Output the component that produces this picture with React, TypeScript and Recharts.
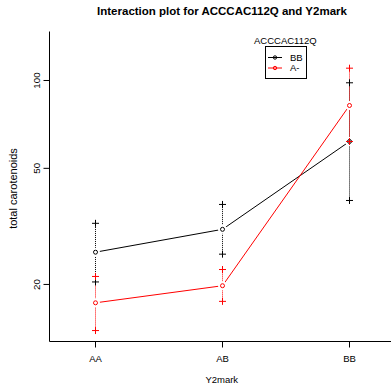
import React from 'react';
import { ComposedChart, Line, XAxis, YAxis, ErrorBar, Legend, Customized } from 'recharts';

const categories = ['AA', 'AB', 'BB'];
const bbMean = [25.8, 30.9, 61.8];
const bbLow = [20.4, 25.4, 38.8];
const bbHigh = [32.4, 37.6, 98.2];
const amMean = [17.3, 19.8, 82.1];
const amLow = [13.9, 17.5, 61.8];
const amHigh = [21.3, 22.5, 110.2];
const yTicks = [20, 50, 100];
const yDomain = [12.75, 147.2];
const groupNames = ['BB', 'A-'];
const groupColors = ['#000000', '#ff0000'];

const data = categories.map((c, i) => ({
  cat: c,
  bb: bbMean[i],
  bbErr: [bbMean[i] - bbLow[i], bbHigh[i] - bbMean[i]],
  bbLo: bbLow[i],
  bbHi: bbHigh[i],
  am: amMean[i],
  amErr: [amMean[i] - amLow[i], amHigh[i] - amMean[i]],
  amLo: amLow[i],
  amHi: amHigh[i],
}));

const FONT = '"Liberation Sans", Arial, Helvetica, sans-serif';

const GapDot = (props: any) => {
  const { cx, cy, stroke } = props;
  if (cx == null || cy == null) return null;
  return (
    <g>
      <circle cx={cx} cy={cy} r={4.5} fill="#fff" stroke="none" />
      <circle cx={cx} cy={cy} r={2} fill="none" stroke={stroke} strokeWidth={1} />
    </g>
  );
};

const makePlus = (color: string) => (props: any) => {
  const { cx, cy } = props;
  if (cx == null || cy == null) return null;
  return (
    <path
      d={`M${cx - 3.5},${cy}H${cx + 3.5}M${cx},${cy - 3.5}V${cy + 3.5}`}
      stroke={color}
      strokeWidth={1}
      fill="none"
    />
  );
};

const XTick = (props: any) => {
  const { x, y, payload } = props;
  return (
    <text x={x} y={y} dy={12.5} textAnchor="middle" fontSize={9.5} fontFamily={FONT} fill="#000">
      {payload.value}
    </text>
  );
};

const YTick = (props: any) => {
  const { x, y, payload } = props;
  return (
    <text
      x={x}
      y={y}
      transform={`rotate(-90, ${x}, ${y})`}
      textAnchor="middle"
      fontSize={9.8}
      fontFamily={FONT}
      fill="#000"
    >
      {payload.value}
    </text>
  );
};

const XLabel = (props: any) => {
  const vb = props.viewBox || {};
  return (
    <text x={vb.x + vb.width / 2} y={vb.y + 41.5} textAnchor="middle" fontSize={9.5} fontFamily={FONT} fill="#000">
      Y2mark
    </text>
  );
};

const YLabel = (props: any) => {
  const vb = props.viewBox || {};
  const x = 16.5;
  const y = vb.y + vb.height / 2 + 2;
  return (
    <text x={x} y={y} transform={`rotate(-90, ${x}, ${y})`} textAnchor="middle" fontSize={11} fontFamily={FONT} fill="#000">
      total carotenoids
    </text>
  );
};

const Title = () => (
  <text x={222} y={15} textAnchor="middle" fontSize={11.5} fontWeight="bold" fontFamily={FONT} fill="#000">
    Interaction plot for ACCCAC112Q and Y2mark
  </text>
);

const LegendContent = () => (
  <svg width={80} height={50} style={{ display: 'block', overflow: 'visible' }}>
    <text x={40.3} y={12} textAnchor="middle" fontSize={9.5} fontFamily={FONT} fill="#000">
      ACCCAC112Q
    </text>
    <rect x={20.5} y={14.5} width={41} height={32} fill="#fff" stroke="#000" strokeWidth={1} />
    {groupNames.map((g, i) => {
      const cy = 25.5 + i * 10.5;
      return (
        <g key={g}>
          <line x1={23} x2={37} y1={cy} y2={cy} stroke={groupColors[i]} strokeWidth={1} />
          <circle cx={30} cy={cy} r={1.7} fill="none" stroke={groupColors[i]} strokeWidth={1} />
          <text x={45} y={cy + 3.4} fontSize={9.5} fontFamily={FONT} fill="#000">
            {g}
          </text>
        </g>
      );
    })}
  </svg>
);

export default function App() {
  return (
    <div style={{ position: 'absolute', left: 0, top: 0, width: 391, height: 388, overflow: 'hidden', background: '#fff' }}>
      <ComposedChart
        width={396}
        height={388}
        data={data}
        margin={{ top: 31.5, right: 2, bottom: 0, left: 0 }}
      >
        <XAxis
          dataKey="cat"
          type="category"
          scale="point"
          padding={{ left: 46, right: 44.5 }}
          axisLine={{ stroke: '#000', strokeWidth: 1 }}
          tickLine={{ stroke: '#000' }}
          tickSize={6}
          tickMargin={2}
          height={46.5}
          tick={<XTick />}
          label={<XLabel />}
        />
        <XAxis
          xAxisId="top"
          orientation="top"
          dataKey="cat"
          type="category"
          height={0}
          axisLine={{ stroke: '#000', strokeWidth: 1 }}
          tick={false}
          tickLine={false}
        />
        <YAxis
          type="number"
          scale="log"
          domain={yDomain}
          allowDataOverflow
          ticks={yTicks}
          axisLine={{ stroke: '#000', strokeWidth: 1 }}
          tickLine={{ stroke: '#000' }}
          tickSize={6}
          tickMargin={3}
          width={49.5}
          tick={<YTick />}
          label={<YLabel />}
        />
        <Line dataKey="bb" stroke={groupColors[0]} strokeWidth={1} dot={<GapDot />} activeDot={false} isAnimationActive={false} />
        <Line dataKey="am" stroke={groupColors[1]} strokeWidth={1} dot={<GapDot />} activeDot={false} isAnimationActive={false} />
        <Line dataKey="bb" stroke="none" dot={false} activeDot={false} isAnimationActive={false}>
          <ErrorBar dataKey="bbErr" width={0} stroke={groupColors[0]} strokeWidth={1} strokeDasharray="1 1" direction="y" isAnimationActive={false} />
        </Line>
        <Line dataKey="am" stroke="none" dot={false} activeDot={false} isAnimationActive={false}>
          <ErrorBar dataKey="amErr" width={0} stroke={groupColors[1]} strokeWidth={1} strokeDasharray="1 1" direction="y" isAnimationActive={false} />
        </Line>
        <Line dataKey="bbHi" stroke="none" dot={makePlus(groupColors[0])} activeDot={false} isAnimationActive={false} />
        <Line dataKey="bbLo" stroke="none" dot={makePlus(groupColors[0])} activeDot={false} isAnimationActive={false} />
        <Line dataKey="amHi" stroke="none" dot={makePlus(groupColors[1])} activeDot={false} isAnimationActive={false} />
        <Line dataKey="amLo" stroke="none" dot={makePlus(groupColors[1])} activeDot={false} isAnimationActive={false} />
        <Legend
          layout="horizontal"
          verticalAlign="middle"
          align="center"
          content={<LegendContent />}
          wrapperStyle={{ position: 'absolute', left: 245, top: 32, width: 80, height: 50 }}
        />
        <Customized component={<Title />} />
      </ComposedChart>
    </div>
  );
}
